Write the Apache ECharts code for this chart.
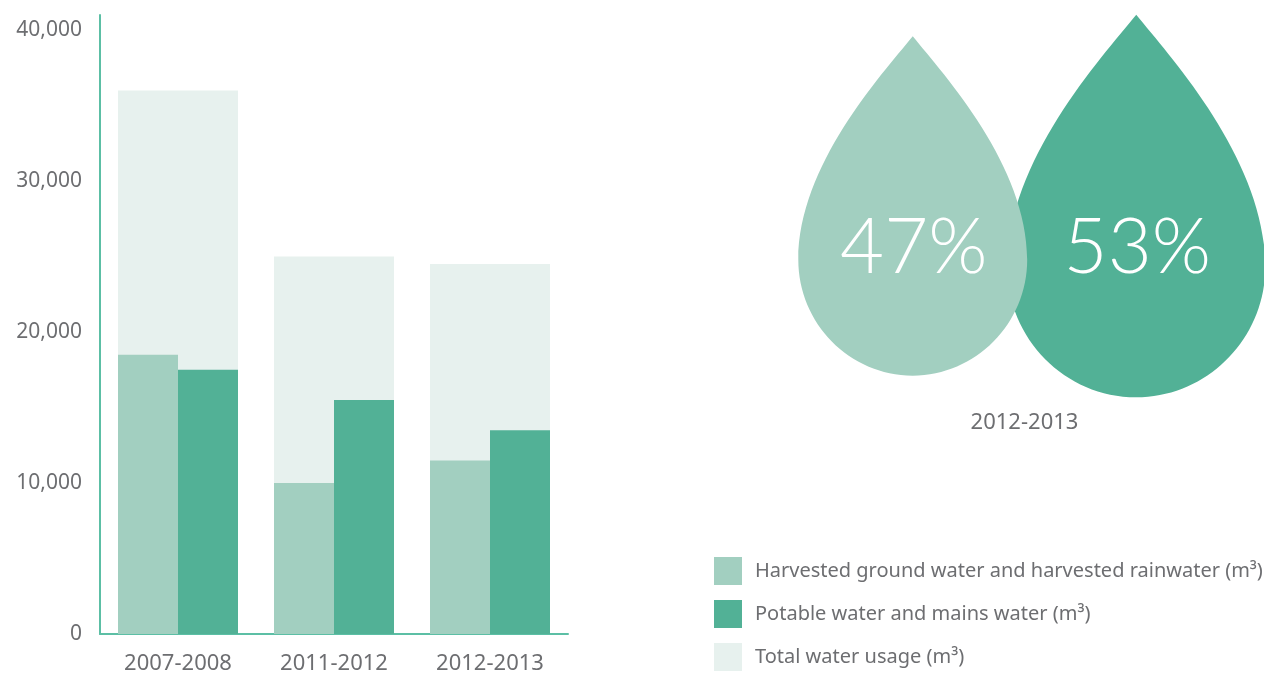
<!DOCTYPE html>
<html>
<head>
<meta charset="utf-8">
<script src="https://cdn.jsdelivr.net/npm/echarts@6/dist/echarts.min.js"></script>
<style>html,body{margin:0;padding:0;background:#fff}#c{width:1264px;height:675px}</style>
</head>
<body>
<div id="c"></div>
<script>
// ---- data ----
const categories = ['2007-2008', '2011-2012', '2012-2013'];
const harvested = [18500, 10000, 11500];
const potable = [17500, 15500, 13500];
const totalUsage = [36000, 25000, 24500];
const seriesNames = [
  'Harvested ground water and harvested rainwater (m\u00B3)',
  'Potable water and mains water (m\u00B3)',
  'Total water usage (m\u00B3)'
];
const yTicks = [0, 10000, 20000, 30000, 40000];
const dropYear = '2012-2013';
const dropCategories = ['Harvested', 'Potable'];
const dropShares = [47, 53];

// ---- styles ----
const C_HARV = '#a2cfc0', C_POT = '#52b196', C_TOT = '#e7f1ee', C_AXIS = '#5cbfa5', C_TXT = '#6d6e71';
const FONT = 'Noto Sans';
const dropPath = 'path://M100 0 C 72 34 0 112 0 193 C 0 248 45 293 100 293 C 155 293 200 248 200 193 C 200 112 128 34 100 0 Z';
const dropColors = [C_HARV, C_POT];

const dropData = dropShares.map((v, i) => ({
  value: [i, 0, v],
  itemStyle: { color: dropColors[i], opacity: 1 }
})).reverse();

const chart = echarts.init(document.getElementById('c'));
chart.setOption({
  animation: false,
  textStyle: { fontFamily: FONT },
  grid: [
    { left: 100, right: 696, top: 15, bottom: 41 },
    { left: 801, width: 447, top: 0, height: 412 }
  ],
  legend: {
    data: seriesNames,
    orient: 'vertical',
    left: 714, top: 557, padding: 0,
    itemWidth: 28, itemHeight: 28, itemGap: 15,
    icon: 'rect',
    selectedMode: false,
    textStyle: { color: C_TXT, fontSize: 20, fontFamily: FONT, padding: [0, 0, 0, 8] }
  },
  xAxis: [
    { type: 'category', gridIndex: 0, data: categories,
      axisLine: { lineStyle: { color: C_AXIS, width: 2 } },
      axisTick: { show: false },
      axisLabel: { color: C_TXT, fontSize: 22, margin: 19 } },
    { type: 'category', gridIndex: 0, data: categories, show: false },
    { type: 'category', gridIndex: 1, data: dropCategories,
      axisLine: { show: false }, axisTick: { show: false }, axisLabel: { show: false },
      name: dropYear, nameLocation: 'middle', nameGap: 0,
      nameTextStyle: { color: C_TXT, fontSize: 22, verticalAlign: 'top' } }
  ],
  yAxis: [
    { type: 'value', gridIndex: 0, min: 0, max: 41000, interval: 10000,
      axisLine: { show: true, lineStyle: { color: C_AXIS, width: 2 } },
      axisTick: { show: false }, splitLine: { show: false },
      axisLabel: { color: C_TXT, fontSize: 21, margin: 18, showMaxLabel: false,
        formatter: v => yTicks.includes(v) ? v.toLocaleString('en-US') : '' } },
    { type: 'category', gridIndex: 1, data: [dropYear], show: false }
  ],
  series: [
    { name: seriesNames[2], type: 'bar', xAxisIndex: 0, yAxisIndex: 0, data: totalUsage,
      barWidth: 120, itemStyle: { color: C_TOT }, z: 1 },
    { name: seriesNames[0], type: 'bar', xAxisIndex: 1, yAxisIndex: 0, data: harvested,
      barWidth: 60, barGap: '0%', itemStyle: { color: C_HARV }, z: 2 },
    { name: seriesNames[1], type: 'bar', xAxisIndex: 1, yAxisIndex: 0, data: potable,
      barWidth: 60, barGap: '0%', itemStyle: { color: C_POT }, z: 2 },
    { type: 'scatter', xAxisIndex: 2, yAxisIndex: 1, data: dropData,
      symbol: dropPath,
      symbolSize: v => [v[2] * 4.87, v[2] * 7.22],
      emphasis: { disabled: true },
      label: { show: true, position: 'inside', offset: [1, 42],
        formatter: p => p.value[2] + '%',
        color: '#fff', fontSize: 76, fontFamily: 'Lato', fontWeight: 300 },
      z: 3 }
  ]
});
</script>
</body>
</html>
